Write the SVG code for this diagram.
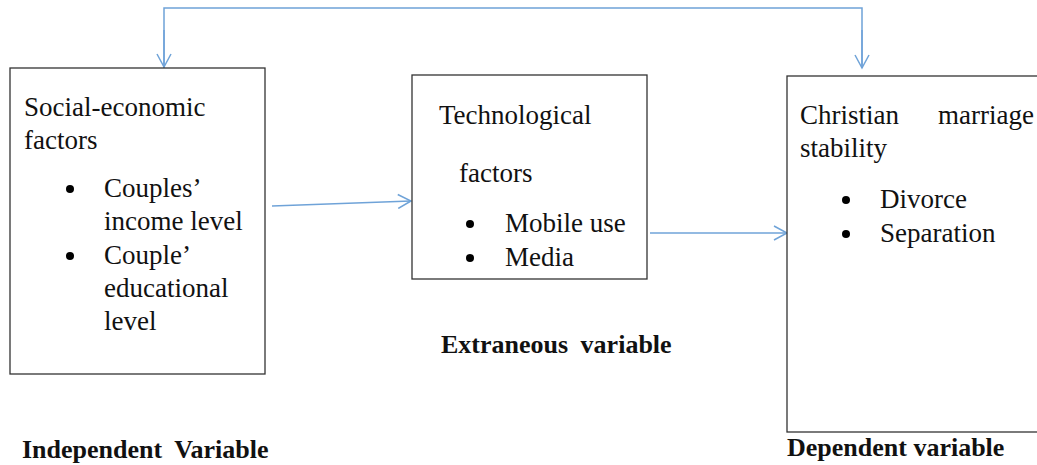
<svg xmlns="http://www.w3.org/2000/svg" width="1037" height="465" viewBox="0 0 1037 465">
<style>
.box{fill:#fff;stroke:#333;stroke-width:1.3}
.t{font-family:"Liberation Serif","Times New Roman",serif;font-size:27px;fill:#111}
.b{font-family:"Liberation Serif","Times New Roman",serif;font-size:26px;font-weight:bold;fill:#111}
.c{fill:none;stroke:#6fa3d8;stroke-width:1.5}
</style>
<defs>
<marker id="ah" markerWidth="16" markerHeight="16" refX="14" refY="8" orient="auto" markerUnits="userSpaceOnUse">
<path d="M1,1 L14,8 L1,15" fill="none" stroke="#6fa3d8" stroke-width="1.5"/>
</marker>
</defs>
<rect width="1037" height="465" fill="#fff"/>
<g id="connectors">
<path class="c" d="M164,68 V8 H862 V68" />
<path class="c" d="M164,30 V67" marker-end="url(#ah)"/>
<path class="c" d="M862,30 V68" marker-end="url(#ah)"/>
<path class="c" d="M272,206 L411,201" marker-end="url(#ah)"/>
<path class="c" d="M650,233 L787,233" marker-end="url(#ah)"/>
</g>
<g id="independent">
<rect class="box" x="10" y="68" width="255" height="306"/>
<text class="t" x="24" y="116">Social-economic</text>
<text class="t" x="24" y="149">factors</text>
<circle cx="70" cy="189" r="4" fill="#000"/>
<text class="t" x="104" y="197">Couples’</text>
<text class="t" x="104" y="230">income level</text>
<circle cx="70" cy="256" r="4" fill="#000"/>
<text class="t" x="104" y="264">Couple’</text>
<text class="t" x="104" y="297">educational</text>
<text class="t" x="104" y="330">level</text>
</g>
<g id="extraneous">
<rect class="box" x="412" y="75" width="235" height="204"/>
<text class="t" x="439" y="124">Technological</text>
<text class="t" x="459" y="182">factors</text>
<circle cx="470" cy="224" r="4" fill="#000"/>
<text class="t" x="505" y="232">Mobile use</text>
<circle cx="470" cy="258" r="4" fill="#000"/>
<text class="t" x="505" y="266">Media</text>
</g>
<g id="dependent">
<rect class="box" x="787" y="76" width="260" height="356"/>
<text class="t" x="800" y="124">Christian</text>
<text class="t" x="938" y="124">marriage</text>
<text class="t" x="800" y="157">stability</text>
<circle cx="846" cy="200" r="4" fill="#000"/>
<text class="t" x="880" y="208">Divorce</text>
<circle cx="846" cy="234" r="4" fill="#000"/>
<text class="t" x="880" y="242">Separation</text>
</g>
<g id="labels">
<text class="b" x="22" y="458" word-spacing="6">Independent Variable</text>
<text class="b" x="441" y="353" word-spacing="6">Extraneous variable</text>
<text class="b" x="787" y="456">Dependent variable</text>
</g>
</svg>
